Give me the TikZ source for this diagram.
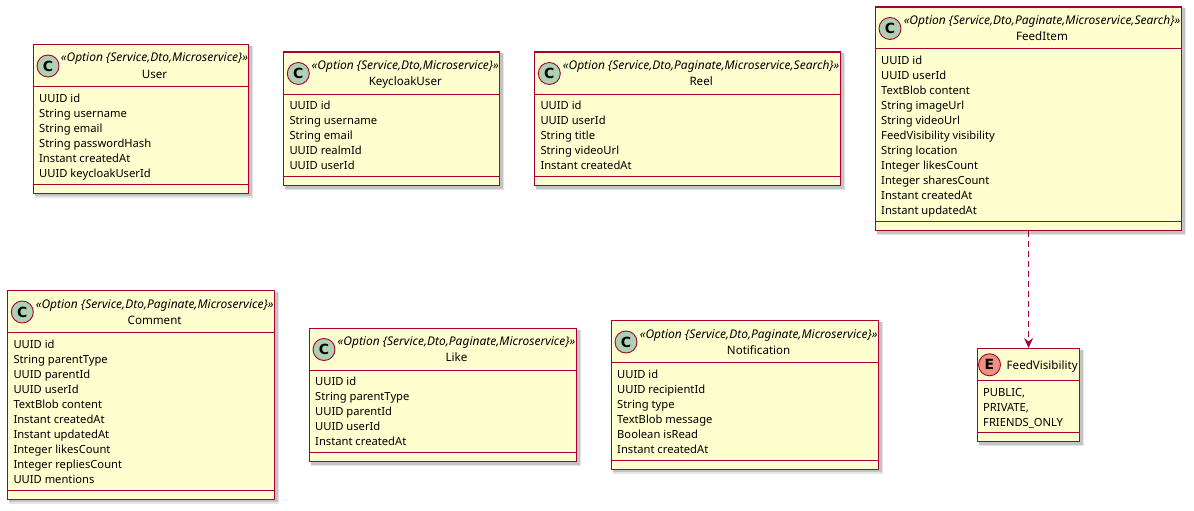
\documentclass[tikz,border=0pt]{standalone}
\usepackage{fontspec}
\setmainfont{Noto Sans}
\newfontfamily\circfont{DejaVu Sans}
\usetikzlibrary{arrows.meta}
\definecolor{umlborder}{HTML}{A80036}
\definecolor{umlfill}{HTML}{FEFECE}
\definecolor{cfill}{HTML}{ADD1B2}
\definecolor{efill}{HTML}{EB937F}
\tikzset{
  umlbox/.style={draw=umlborder, fill=umlfill, line width=1.1pt, inner sep=0pt, rectangle},
  sepline/.style={draw=umlborder, line width=1pt},
  ccircle/.style={circle, draw=umlborder, line width=0.9pt, fill=cfill, minimum size=22pt, inner sep=0pt, font=\fontsize{14}{15}\selectfont\circfont\bfseries},
  ecircle/.style={ccircle, fill=efill},
  stereo/.style={anchor=base, inner sep=0pt, font=\fontsize{12}{13}\selectfont\itshape},
  cname/.style={anchor=base, inner sep=0pt, font=\fontsize{11.6}{13}\selectfont},
  attr/.style={anchor=base west, inner sep=0pt, font=\fontsize{11.2}{13}\selectfont},
  dep/.style={draw=umlborder, line width=1pt, dash pattern=on 6pt off 4pt, -{Stealth[length=10pt,width=9pt,inset=3.5pt]}},
}
\newcommand\shadowrect[4]{%
  \fill[black, opacity=0.10] (#1+2,#2+2) rectangle (#3+5,#4+5);
  \fill[black, opacity=0.14] (#1+2,#2+2) rectangle (#3+3.5,#4+3.5);
}
\newcommand\umlclass[8]{%
  \pgfmathsetmacro\cw{#4-#2}%
  \pgfmathsetmacro\ch{42.5+15*#5+16}%
  \pgfmathsetmacro\sepy{#3+42.5}%
  \pgfmathsetmacro\boty{#3+\ch}%
  \pgfmathsetmacro\bsep{\boty-8.5}%
  \pgfmathsetmacro\tx{(#2+28+#4)/2}%
  \shadowrect{#2}{#3}{#4}{\boty}
  \node[umlbox, minimum width=\cw pt, minimum height=\ch pt, anchor=north west] (#1) at (#2,#3) {};
  \draw[sepline] (#2,\sepy) -- (#4,\sepy);
  \draw[sepline] (#2,\bsep) -- (#4,\bsep);
  \node[ccircle] (#1-c) at (#2+15,#3+22) {C};
  \node[stereo] (#1-s) at (\tx,#3+18) {#6};
  \node[cname] (#1-n) at (\tx,#3+34) {#7};
  \foreach \a [count=\i] in {#8} {
    \node[attr] (#1-a\i) at (#2+6,\sepy+15.8+15*\i-15) {\a};
  }
}
\begin{document}
\begin{tikzpicture}[x=1pt, y=-1pt]
\useasboundingbox[fill=white] (0,0) rectangle (1194,511);

\umlclass{user}{33}{44}{248}{6}{«Option \{Service,Dto,Microservice\}»}{User}
  {UUID id, String username, String email, String passwordHash, Instant createdAt, UUID keycloakUserId}
\umlclass{kcuser}{283.3}{51.5}{499.3}{5}{«Option \{Service,Dto,Microservice\}»}{KeycloakUser}
  {UUID id, String username, String email, UUID realmId, UUID userId}
\umlclass{reel}{534.3}{51.5}{840}{5}{«Option \{Service,Dto,Paginate,Microservice,Search\}»}{Reel}
  {UUID id, UUID userId, String title, String videoUrl, Instant createdAt}
\umlclass{feeditem}{875}{6.5}{1181}{11}{«Option \{Service,Dto,Paginate,Microservice,Search\}»}{FeedItem}
  {UUID id, UUID userId, TextBlob content, String imageUrl, String videoUrl, FeedVisibility visibility, String location, Integer likesCount, Integer sharesCount, Instant createdAt, Instant updatedAt}
\umlclass{comment}{7.3}{290}{274}{10}{«Option \{Service,Dto,Paginate,Microservice\}»}{Comment}
  {UUID id, String parentType, UUID parentId, UUID userId, TextBlob content, Instant createdAt, Instant updatedAt, Integer likesCount, Integer repliesCount, UUID mentions}
\umlclass{like}{309}{327.5}{576}{5}{«Option \{Service,Dto,Paginate,Microservice\}»}{Like}
  {UUID id, String parentType, UUID parentId, UUID userId, Instant createdAt}
\umlclass{notification}{611}{320}{878.3}{6}{«Option \{Service,Dto,Paginate,Microservice\}»}{Notification}
  {UUID id, UUID recipientId, String type, TextBlob message, Boolean isRead, Instant createdAt}

% enum FeedVisibility
\shadowrect{976.7}{348}{1079.3}{441}
\node[umlbox, minimum width=102.6pt, minimum height=93pt, anchor=north west] (feedvis) at (976.7,348) {};
\draw[sepline] (976.7,380.5) -- (1079.3,380.5);
\draw[sepline] (976.7,432.5) -- (1079.3,432.5);
\node[ecircle] (feedvis-c) at (989.5,364.8) {E};
\node[cname, anchor=base west] (feedvis-n) at (1006.5,369.3) {FeedVisibility};
\foreach \a [count=\i] in {{PUBLIC,},{PRIVATE,},FRIENDS\_ONLY} {
  \node[attr] (feedvis-a\i) at (983,396.8+15*\i-15) {\a};
}

\draw[dep] (feeditem.south) -- (feedvis.north);
\end{tikzpicture}
\end{document}
